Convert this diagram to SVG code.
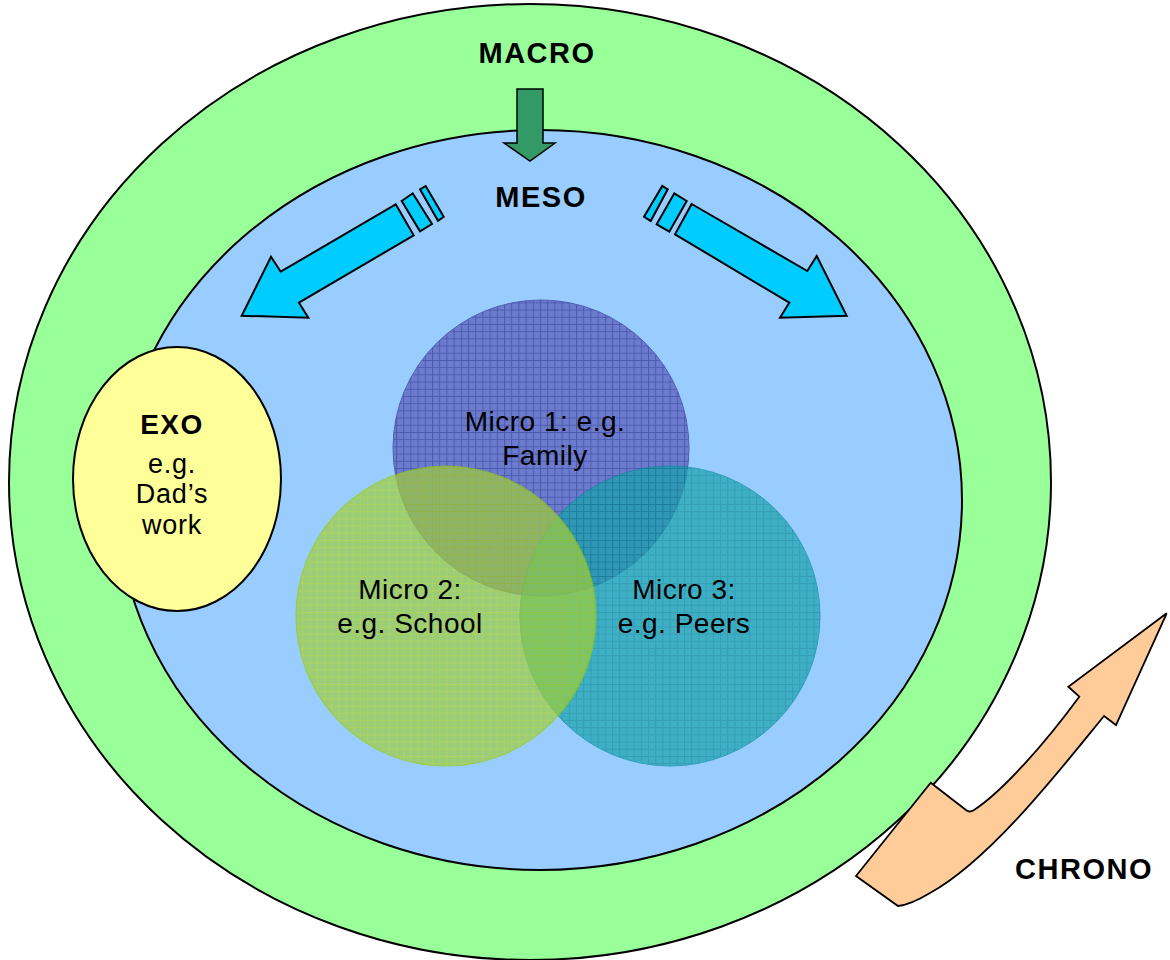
<svg xmlns="http://www.w3.org/2000/svg" width="1170" height="960" viewBox="0 0 1170 960">
  <defs>
    <style>
      .bold { font-family: "Liberation Sans", Arial, sans-serif; font-weight: bold; font-size: 29px; letter-spacing: 1.5px; fill: #000; text-anchor: middle; }
      .lbl { font-family: "Liberation Sans", Arial, sans-serif; font-size: 27px; letter-spacing: 0.8px; fill: #000; text-anchor: middle; }
      .mic { font-family: "Liberation Sans", Arial, sans-serif; font-size: 28px; letter-spacing: 0.5px; fill: #000; text-anchor: middle; }
      .ring { stroke: #000; stroke-width: 2; }
      .arrow { fill: #00ccff; stroke: #000; stroke-width: 2; stroke-linejoin: miter; }
    </style>
    <pattern id="grid1" width="7.2" height="7.2" patternUnits="userSpaceOnUse">
      <rect width="7.2" height="7.2" fill="#5a5ab8"/>
      <path d="M0 0.5 H7.2 M0.5 0 V7.2" stroke="#2c2c8c" stroke-width="1"/>
    </pattern>
    <pattern id="grid2" width="7.2" height="7.2" patternUnits="userSpaceOnUse">
      <rect width="7.2" height="7.2" fill="#9ccd42"/>
      <path d="M0 0.5 H7.2 M0.5 0 V7.2" stroke="#b4d814" stroke-width="1"/>
    </pattern>
    <pattern id="grid3" width="7.2" height="7.2" patternUnits="userSpaceOnUse">
      <rect width="7.2" height="7.2" fill="#18a4ac"/>
      <path d="M0 0.5 H7.2 M0.5 0 V7.2" stroke="#0a8c96" stroke-width="1"/>
    </pattern>
  </defs>

  <rect width="1170" height="960" fill="#ffffff"/>

  <g id="macro">
    <ellipse class="ring" cx="530" cy="482" rx="521" ry="478" fill="#99ff99"/>
    <text class="bold" x="537" y="63">MACRO</text>
  </g>

  <g id="meso">
    <ellipse class="ring" cx="540" cy="500" rx="422" ry="370" fill="#99ccff"/>
    <text class="bold" x="541" y="207">MESO</text>
  </g>

  <g id="exo">
    <ellipse cx="177" cy="479" rx="104" ry="132" fill="#ffff99" stroke="#000" stroke-width="2"/>
    <text class="bold" x="172" y="434" style="font-size:28px">EXO</text>
    <text class="lbl" x="172" y="473">e.g.</text>
    <text class="lbl" x="172" y="503">Dad’s</text>
    <text class="lbl" x="172" y="534">work</text>
  </g>

  <g id="micro1">
    <circle cx="541" cy="448" r="148" fill="url(#grid1)" opacity="0.7" stroke="#333399" stroke-width="1"/>
  </g>
  <g id="micro3">
    <circle cx="670" cy="616" r="150" fill="url(#grid3)" opacity="0.7" stroke="#008c99" stroke-width="1"/>
  </g>
  <g id="micro2">
    <circle cx="446" cy="616" r="150" fill="url(#grid2)" opacity="0.7" stroke="#99cc00" stroke-width="1.2"/>
  </g>

  <g id="micro-labels">
    <text class="mic" x="545" y="431">Micro 1: e.g.</text>
    <text class="mic" x="545" y="465">Family</text>
    <text class="mic" x="410" y="599">Micro 2:</text>
    <text class="mic" x="410" y="633">e.g. School</text>
    <text class="mic" x="684" y="599">Micro 3:</text>
    <text class="mic" x="684" y="633">e.g. Peers</text>
  </g>

  <g id="connectors">
    <path d="M517 89 H543 V143 H555 L530 161 L504 143 H517 Z" fill="#339966" stroke="#000" stroke-width="1.5"/>
    <g id="meso-left-arrow">
      <path class="arrow" d="M395.7 204.3 L413.7 235.3 L299 302.7 L308.3 317.7 L241.7 315.7 L271 256.7 L280.7 271.7 Z"/>
      <path class="arrow" d="M401.7 201 L412.7 193.3 L432 224 L420 231.3 Z"/>
      <path class="arrow" d="M420 189.3 L425.7 186 L443.7 216.7 L438 220.7 Z"/>
    </g>
    <g id="meso-right-arrow">
      <path class="arrow" d="M691.7 204 L807.3 271 L816.7 256 L846.7 315.7 L780 317.7 L789.3 302.7 L675 234.3 Z"/>
      <path class="arrow" d="M656.7 224.3 L674.3 193.3 L686.7 201 L669.3 231.7 Z"/>
      <path class="arrow" d="M644 216.7 L662.3 186 L667.7 189.3 L650.7 221 Z"/>
    </g>
  </g>

  <g id="chrono">
    <path d="M930.7 782.7 L966 810 Q969.5 813 974 810 C1000 793 1040 750 1079.3 696.7 L1068.3 686.7 L1166.7 613.3 L1116 725 L1104 716 C1060 770 990 860 930 893 Q910 905 898 906 L856 876 Z" fill="#ffcc99" stroke="#000" stroke-width="1.8" stroke-linejoin="miter"/>
    <text class="bold" x="1084" y="879">CHRONO</text>
  </g>
</svg>
